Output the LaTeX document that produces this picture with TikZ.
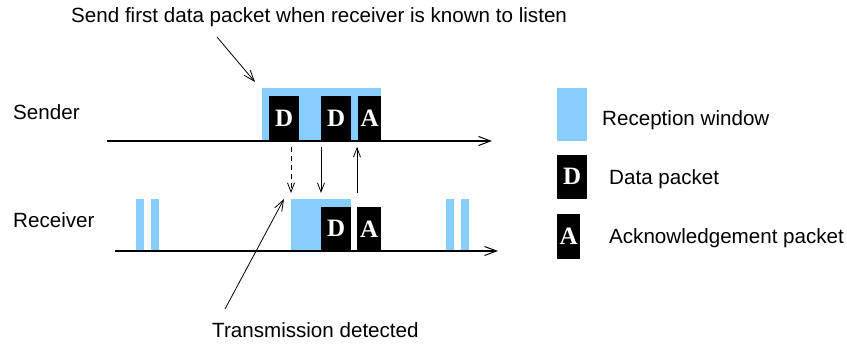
\documentclass[tikz,border=0pt]{standalone}
\usepackage{fontspec}
\setmainfont{Liberation Sans}
\newfontfamily\boxfont{Liberation Serif}
\usetikzlibrary{arrows.meta}
\definecolor{rxblue}{RGB}{135,206,255}
\tikzset{
  lbl/.style={inner sep=0pt, anchor=base west, font=\fontsize{20.6}{24}\selectfont},
  win/.style={fill=rxblue, draw=none, inner sep=0pt, anchor=south west},
  pkt/.style={fill=black, draw=none, inner sep=0pt, anchor=south west, text=white,
              font=\boxfont\bfseries\fontsize{25}{25}\selectfont},
  timeline/.style={line width=1.1pt, -{Straight Barb[length=12pt,width=9pt,line width=1pt]}},
  msg/.style={line width=0.8pt, -{Straight Barb[length=9pt,width=7pt,line width=0.8pt]}},
  note/.style={line width=0.8pt, -{Straight Barb[length=11pt,width=8pt,line width=0.8pt]}}
}
\begin{document}
\begin{tikzpicture}[x=1pt,y=-1pt]
\useasboundingbox (0,0) rectangle (847,344);

% labels
\node[lbl] (title) at (71,23) {Send first data packet when receiver is known to listen};
\node[lbl] (sender) at (13,120) {Sender};
\node[lbl] (receiver) at (13,228) {Receiver};
\node[lbl] (detected) at (212,338) {Transmission detected};

% sender time line with reception window and packets
\node[win, minimum width=119pt, minimum height=53pt] (swin) at (262,141) {};
\node[pkt, minimum width=30pt, minimum height=45pt] (sd1) at (269,141) {D};
\node[pkt, minimum width=30pt, minimum height=45pt] (sd2) at (321,141) {D};
\node[pkt, minimum width=23pt, minimum height=45pt] (sa) at (358,141) {A};
\coordinate (s0) at (107,141);
\coordinate (s1) at (492,141);
\draw[timeline] (s0) -- (s1);

% receiver time line: periodic listening windows and the exchange
\node[win, minimum width=8pt, minimum height=52pt] (rw1) at (136,251) {};
\node[win, minimum width=8pt, minimum height=52pt] (rw2) at (151,251) {};
\node[win, minimum width=8pt, minimum height=52pt] (rw3) at (446,251) {};
\node[win, minimum width=8pt, minimum height=52pt] (rw4) at (461,251) {};
\node[win, minimum width=60pt, minimum height=52pt] (rwin) at (291,251) {};
\node[pkt, minimum width=30pt, minimum height=44pt] (rd) at (321,251) {D};
\node[pkt, minimum width=24pt, minimum height=44pt] (ra) at (357,251) {A};
\coordinate (r0) at (115,251);
\coordinate (r1) at (498,251);
\draw[timeline] (r0) -- (r1);

% messages between sender and receiver
\coordinate (m1a) at (291,147);
\coordinate (m1b) at (291,193);
\coordinate (m2a) at (321,147);
\coordinate (m2b) at (321,193);
\coordinate (m3a) at (357,193);
\coordinate (m3b) at (357,147);
\draw[msg, dash pattern=on 5pt off 4pt] (m1a) -- (m1b);
\draw[msg] (m2a) -- (m2b);
\draw[msg] (m3a) -- (m3b);

% annotation pointers
\coordinate (t0) at (217,37);
\coordinate (t1) at (255,82);
\draw[note] (t0) -- (t1);
\coordinate (d0) at (225,309);
\coordinate (d1) at (284,199);
\draw[note] (d0) -- (d1);

% legend
\node[win, minimum width=30pt, minimum height=53pt] (lwin) at (557,141) {};
\node[lbl] (lwintxt) at (602,126) {Reception window};
\node[pkt, minimum width=30pt, minimum height=44pt] (ld) at (557,199) {D};
\node[lbl] (ldtxt) at (609,185) {Data packet};
\node[pkt, minimum width=23pt, minimum height=45pt] (la) at (557,259) {A};
\node[lbl] (latxt) at (609,244) {Acknowledgement packet};
\end{tikzpicture}
\end{document}
